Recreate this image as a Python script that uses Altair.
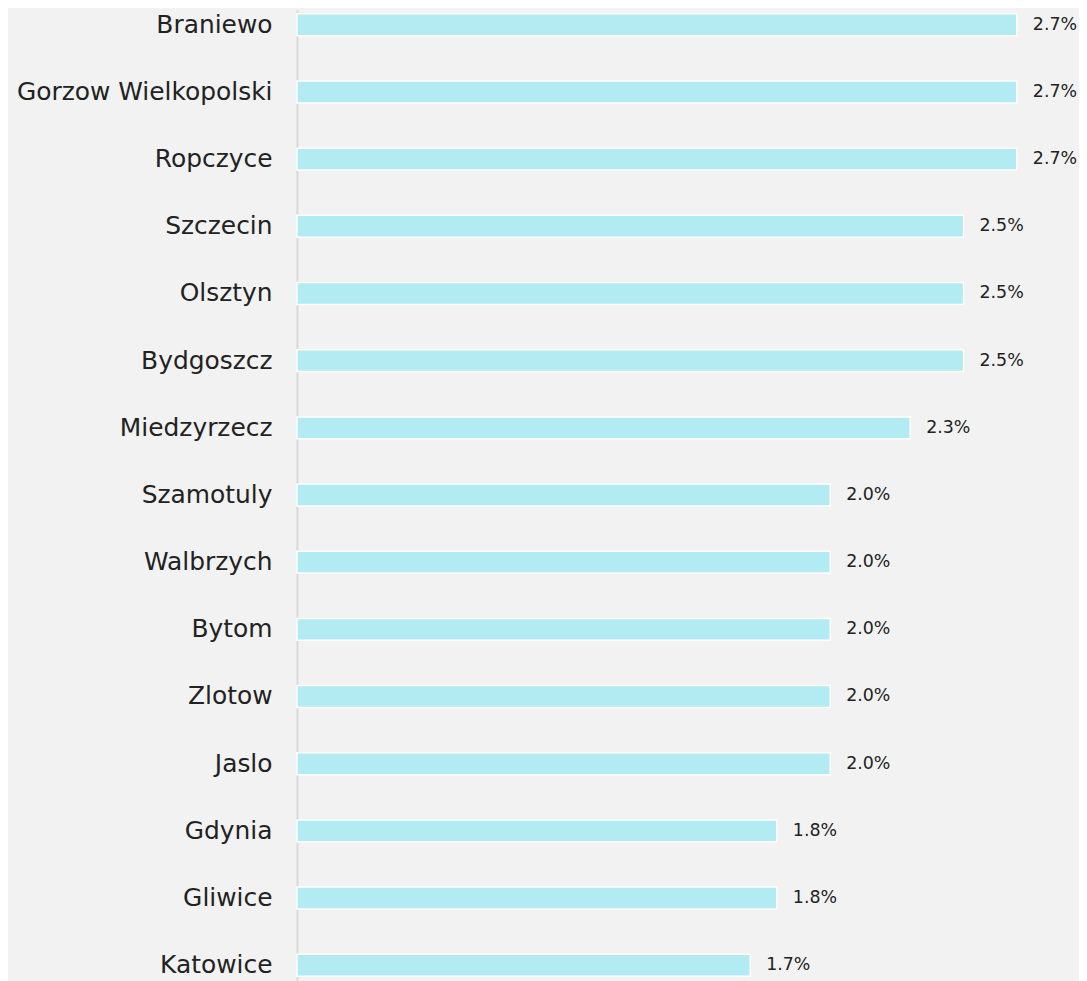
import altair as alt
import pandas as pd

cities = ["Braniewo", "Gorzow Wielkopolski", "Ropczyce", "Szczecin", "Olsztyn",
          "Bydgoszcz", "Miedzyrzecz", "Szamotuly", "Walbrzych", "Bytom",
          "Zlotow", "Jaslo", "Gdynia", "Gliwice", "Katowice"]
values = [2.7, 2.7, 2.7, 2.5, 2.5, 2.5, 2.3, 2.0, 2.0, 2.0, 2.0, 2.0, 1.8, 1.8, 1.7]
labels = ["2.7%", "2.7%", "2.7%", "2.5%", "2.5%", "2.5%", "2.3%", "2.0%", "2.0%",
          "2.0%", "2.0%", "2.0%", "1.8%", "1.8%", "1.7%"]

df = pd.DataFrame({"city": cities, "value": values, "label": labels})

FONT = "DejaVu Sans"

y = alt.Y("city:N", sort=cities,
          scale=alt.Scale(paddingInner=0.674, paddingOuter=0.06),
          axis=alt.Axis(title=None, ticks=False, labelPadding=25,
                        labelFont=FONT, labelFontSize=25, labelFontWeight="normal",
                        labelColor="#222222",
                        domainColor="#d9d9d9", domainWidth=2, labelLimit=400))
x = alt.X("value:Q", scale=alt.Scale(domain=[0, 2.933], nice=False, zero=True),
          axis=None)

bars = alt.Chart(df).mark_bar(color="#b2ebf2", stroke="white", strokeWidth=1.5).encode(
    x=x, y=y)
text = alt.Chart(df).mark_text(align="left", baseline="middle", dx=16,
                               font=FONT, fontSize=17.5, fontWeight="normal",
                               color="#222222").encode(
    x=x, y=y, text="label:N")

chart = (bars + text).properties(
    width=785, height=974,
    background="#f2f2f2",
    padding={"left": 290, "top": 0, "right": 0, "bottom": 0},
    autosize=alt.AutoSizeParams(type="none"),
).configure_view(stroke=None)

chart.save("out.html", embed_options={"renderer": "svg", "actions": False})
